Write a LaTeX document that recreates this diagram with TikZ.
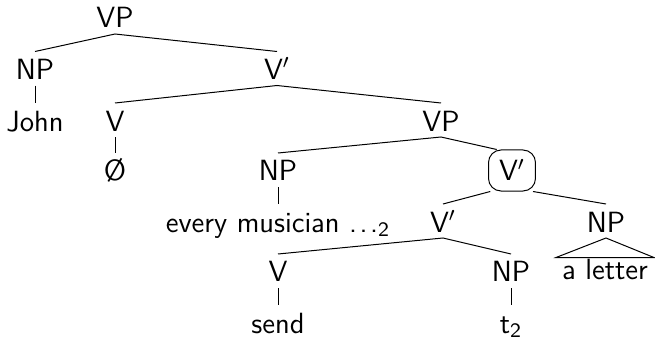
\documentclass[tikz,border=0pt]{standalone}
\usepackage{fontspec}

\tikzset{
	cat/.style={anchor=base, inner sep=0pt, text height=11pt, text depth=2.2pt},
	headbox/.style={anchor=base, draw, rounded corners=5pt, inner xsep=4.2pt, inner ysep=4pt, text height=8.4pt, text depth=0pt}
}

\begin{document}
\begin{tikzpicture}[x=0.4pt, y=-0.4pt, font=\sffamily\fontsize{11.7}{14}\selectfont]
		\useasboundingbox (0,0) rectangle (655,340);

		\node[cat] (VPa) at (115,28) {VP};
		\node[cat] (NPa) at (35,79.5) {NP};
		\node[cat] (Vba) at (277,79.5) {V$'$};
		\node[cat] (john) at (35,131) {John};
		\node[cat] (Va) at (115,131) {V};
		\node[cat] (VPb) at (441,131) {VP};
		\node[cat] (empty) at (115,181) {\O};
		\node[cat] (NPb) at (278,181) {NP};
		\node[headbox] (Vbb) at (512,181) {V$'$};
		\node[cat] (every) at (278,232) {every musician .\kern1pt.\kern1pt.\textsubscript{2}};
		\node[cat] (Vbc) at (443,232) {V$'$};
		\node[cat] (NPc) at (606,232) {NP};
		\node[cat, text height=8.4pt, inner xsep=2.2pt] (letter) at (605,279) {a letter};
		\node[cat] (Vb) at (278,282) {V};
		\node[cat] (NPd) at (511,282) {NP};
		\node[cat] (send) at (278,333) {send};
		\node[cat] (trace) at (511,333) {t\textsubscript{2}};

		\draw (NPa.north) -- (VPa.south) -- (Vba.north);
		\draw (NPa.south) -- (john.north);
		\draw (Va.north) -- (Vba.south) -- (VPb.north);
		\draw (Va.south) -- (empty.north);
		\draw (NPb.north) -- (VPb.south) -- (Vbb.126);
		\draw (NPb.south) -- (every.north);
		\draw (Vbb.224) -- (Vbc.north);
		\draw (Vbb.315) -- (NPc.north);
		\draw (NPc.south) -- (letter.north west) -- (letter.north east) -- cycle;
		\draw (Vb.north) -- (Vbc.south) -- (NPd.north);
		\draw (Vb.south) -- (send.north);
		\draw (NPd.south) -- (trace.north);
	\end{tikzpicture}
\end{document}
